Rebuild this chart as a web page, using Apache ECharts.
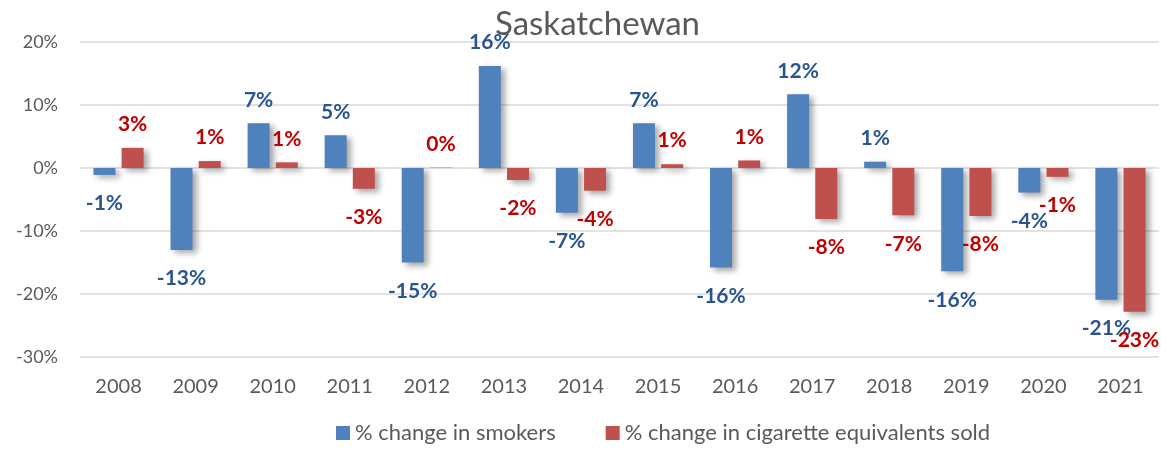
<!DOCTYPE html>
<html>
<head>
<meta charset="utf-8">
<script src="https://cdn.jsdelivr.net/npm/echarts@6/dist/echarts.min.js"></script>
<style>
  html, body { margin: 0; padding: 0; background: #fff; }
  #chart { width: 1161px; height: 452px; }
</style>
</head>
<body>
<div id="chart"></div>
<script>
var years = ['2008','2009','2010','2011','2012','2013','2014','2015','2016','2017','2018','2019','2020','2021'];
var smokers = [-1.1, -13.0, 7.1, 5.2, -15.0, 16.2, -7.1, 7.1, -15.8, 11.7, 1.0, -16.4, -3.9, -20.9];
var cigarettes = [3.2, 1.1, 0.9, -3.3, 0.05, -1.9, -3.6, 0.6, 1.2, -8.1, -7.5, -7.6, -1.4, -22.8];
var yTicks = [-30, -20, -10, 0, 10, 20];

var chart = echarts.init(document.getElementById('chart'));

var fontFam = 'Lato, "Open Sans", sans-serif';
var shadow = {
    shadowBlur: 6,
    shadowOffsetX: 4,
    shadowOffsetY: 3,
    shadowColor: 'rgba(0,0,0,0.35)'
};

function labelled(vals) {
    // labels outside the bar end: above for gains, below for drops
    return vals.map(function (v) {
        return {
            value: v,
            label: v >= 0 ? { position: 'top', distance: 13 } : { position: 'bottom', distance: 18 }
        };
    });
}

function labelText(p) {
    return Math.round(p.value) + '%';
}

var option = {
    backgroundColor: '#fff',
    animation: false,
    title: {
        text: 'Saskatchewan',
        left: 490,
        top: 3,
        textStyle: { fontFamily: fontFam, fontSize: 33, fontWeight: 'normal', color: '#595959' }
    },
    grid: { left: 80, right: 2, top: 42, bottom: 95 },
    legend: {
        bottom: 3,
        left: 331,
        itemWidth: 14,
        itemHeight: 14,
        itemGap: 50,
        icon: 'rect',
        textStyle: { fontFamily: fontFam, fontSize: 22, color: '#595959' },
        data: ['% change in smokers', '% change in cigarette equivalents sold']
    },
    xAxis: {
        type: 'category',
        data: years,
        axisLine: { show: false },
        axisTick: { show: false },
        axisLabel: { fontFamily: fontFam, fontSize: 20, color: '#595959', margin: 20 }
    },
    yAxis: {
        type: 'value',
        min: yTicks[0],
        max: yTicks[yTicks.length - 1],
        interval: 10,
        axisLine: { show: false },
        axisTick: { show: false },
        splitLine: { lineStyle: { color: '#d9d9d9', width: 1.5 } },
        axisLabel: { fontFamily: fontFam, fontSize: 18, color: '#595959', margin: 22, formatter: '{value}%' }
    },
    series: [
        {
            name: '% change in smokers',
            type: 'bar',
            barWidth: 22,
            barGap: '28%',
            data: labelled(smokers),
            itemStyle: Object.assign({ color: '#4f81bd' }, shadow),
            label: {
                show: true,
                formatter: labelText,
                fontFamily: fontFam, fontSize: 21, fontWeight: 'bold', color: '#2a5490'
            }
        },
        {
            name: '% change in cigarette equivalents sold',
            type: 'bar',
            barWidth: 22,
            data: labelled(cigarettes),
            itemStyle: Object.assign({ color: '#c0504d' }, shadow),
            label: {
                show: true,
                formatter: labelText,
                fontFamily: fontFam, fontSize: 21, fontWeight: 'bold', color: '#c00000'
            }
        }
    ]
};

chart.setOption(option);

window.addEventListener('resize', function () {
    chart.resize();
});
</script>
</body>
</html>
